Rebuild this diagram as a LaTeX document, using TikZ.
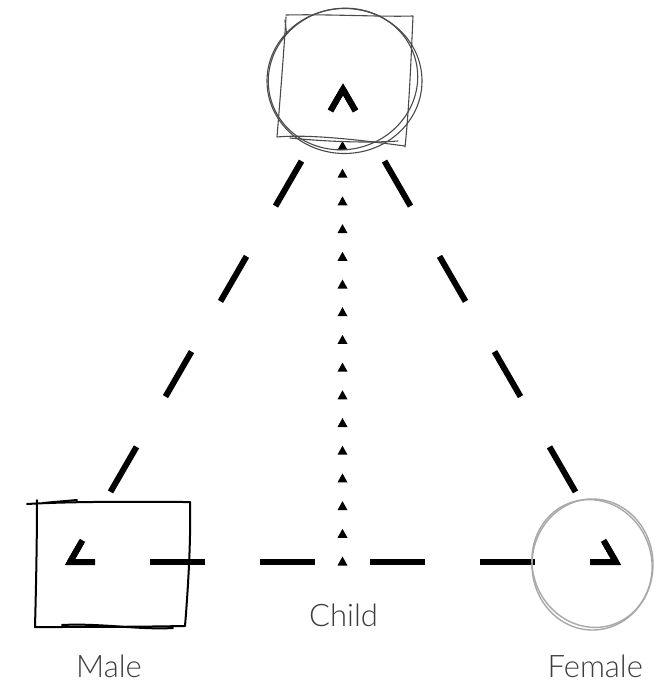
\documentclass[tikz,border=0pt]{standalone}
\usepackage{fontspec}
\IfFontExistsTF{Lato Light}{\newfontfamily\lblfont{Lato Light}}{\newfontfamily\lblfont{Lato}}
\usetikzlibrary{calc,decorations.markings}
\definecolor{labelgray}{HTML}{3C3C3C}
\definecolor{topgray}{HTML}{4A4A4A}
\definecolor{ringgray}{HTML}{A8A8A8}
\begin{document}
\begin{tikzpicture}[x=1pt,y=-1pt,
  sidedash/.style={line width=6pt, line cap=butt, dash pattern=on 52pt off 58pt, dash phase=27pt},
  basedash/.style={line width=6pt, line cap=butt, dash pattern=on 55pt off 55pt, dash phase=30pt},
  cornerline/.style={line width=6pt, line cap=butt, line join=miter},
  lbl/.style={font=\lblfont\fontsize{31}{36}\selectfont, text=labelgray, anchor=base, inner sep=0pt},
  sketchtop/.style={line width=1.1pt, draw=topgray, line cap=round, line join=round},
  sketchblack/.style={line width=2pt, draw=black, line cap=round, line join=round},
  ringline/.style={line width=1.4pt, draw=ringgray},
  childmarks/.style={postaction={decorate}, decoration={markings,
     mark=between positions 0 and 1 step 27.7pt with {\fill (4.5pt,0pt) -- (-4.5pt,5pt) -- (-4.5pt,-5pt) -- cycle;}}}
]
\useasboundingbox (0,0) rectangle (658,683);
\fill[white] (0,0) rectangle (658,683);

% corners of the triangle
\coordinate (T) at (343,89.2);
\coordinate (L) at (70,562);
\coordinate (R) at (616,562);
% ends of the dotted child line
\coordinate (C) at (342.5,561);
\coordinate (D) at (342.5,145);

% dashed triangle
\draw[sidedash] (T) -- (L);
\draw[sidedash] (T) -- (R);
\draw[basedash] (L) -- (R);
\draw[cornerline] ($(T)!25pt!(L)$) -- (T) -- ($(T)!25pt!(R)$);
\draw[cornerline] ($(L)!25pt!(T)$) -- (L) -- ($(L)!25pt!(R)$);
\draw[cornerline] ($(R)!25pt!(L)$) -- (R) -- ($(R)!25pt!(T)$);

% dotted child line
\path[childmarks] (C) -- (D);

% top: sketched square and circle
\draw[sketchtop] (286,15) .. controls (330,14) and (380,17) .. (413,16) .. controls (411,60) and (409,110) .. (405,147);
\draw[sketchtop] (405,146) .. controls (360,140) and (310,134) .. (277,137) .. controls (280,100) and (284,50) .. (286,17);
\draw[sketchtop] (290,138) .. controls (330,142) and (370,143) .. (398,141);
\draw[sketchtop] (285,20) -- (286.5,33);
\draw[sketchtop] (344.5,81) ellipse [x radius=77.5, y radius=72.5];
\draw[sketchtop] (343,79) ellipse [x radius=75, y radius=70.5, rotate=15];

% left: sketched rectangle
\draw[sketchblack] (27,504) .. controls (80,501) and (140,502) .. (190,502) .. controls (191,540) and (188,590) .. (185,626) .. controls (130,627) and (80,627) .. (35,627) .. controls (36,590) and (37,540) .. (37,500);
\draw[sketchblack] (43,503) -- (77,500);
\draw[sketchblack] (62,625) .. controls (100,623) and (140,630) .. (173,628);

% right: sketched circle
\draw[ringline] (592.5,564.5) ellipse [x radius=60.5, y radius=65.5];
\draw[ringline] (592,563.5) ellipse [x radius=59.5, y radius=64.5, rotate=20];

% labels
\node[lbl] (male) at (109,677.3) {Male};
\node[lbl] (child) at (343.5,626.7) {Child};
\node[lbl] (female) at (595.3,677.3) {Female};
\end{tikzpicture}
\end{document}
